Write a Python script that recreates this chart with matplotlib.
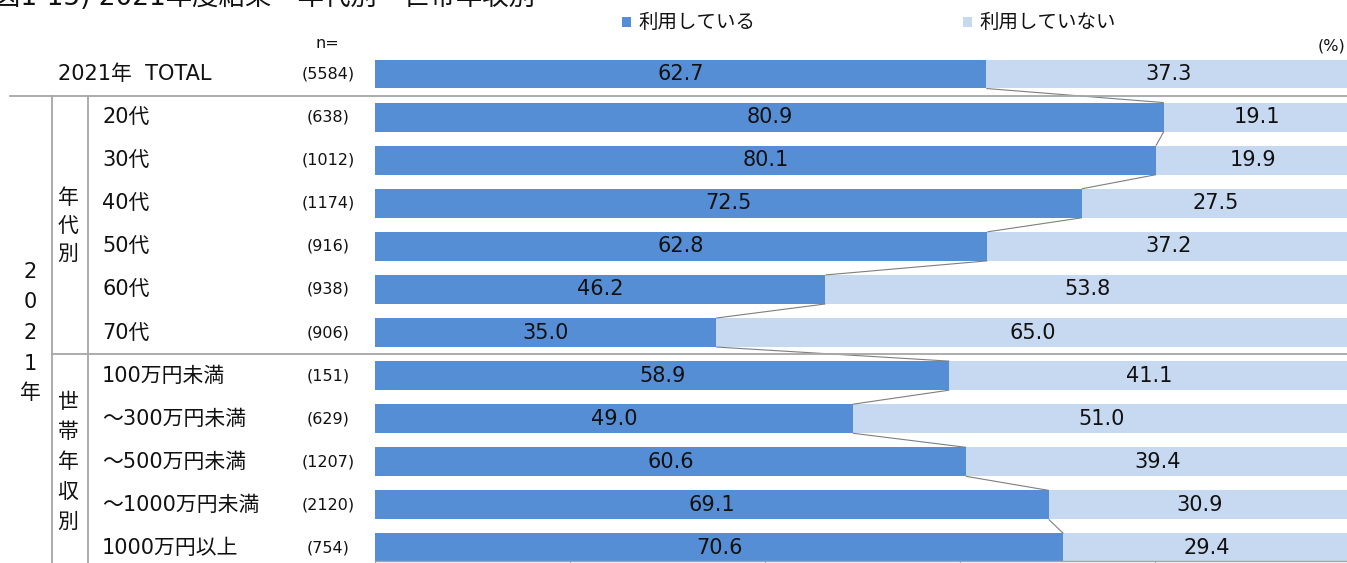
import matplotlib
matplotlib.use("Agg")
import matplotlib.pyplot as plt
from matplotlib.transforms import blended_transform_factory
from matplotlib.lines import Line2D
from matplotlib.patches import Rectangle

plt.rcParams['font.family'] = ['DejaVu Sans', 'Noto Sans CJK JP']

# ---- data ----
categories = ["2021年  TOTAL", "20代", "30代", "40代", "50代", "60代", "70代",
              "100万円未満", "～300万円未満", "～500万円未満", "～1000万円未満", "1000万円以上"]
n_values = [5584, 638, 1012, 1174, 916, 938, 906, 151, 629, 1207, 2120, 754]
using = [62.7, 80.9, 80.1, 72.5, 62.8, 46.2, 35.0, 58.9, 49.0, 60.6, 69.1, 70.6]
not_using = [37.3, 19.1, 19.9, 27.5, 37.2, 53.8, 65.0, 41.1, 51.0, 39.4, 30.9, 29.4]
series_names = ["利用している", "利用していない"]
title = "図1-15) 2021年度結果　年代別　世帯年収別"

C_USE = "#558ED5"
C_NOT = "#C6D9F1"
GRID = "#A6A6A6"
TXT = "#111111"

W, H = 1347, 563
fig = plt.figure(figsize=(W / 100, H / 100), dpi=100)

# bar area
row_h = 43.09
first_center = 74.0
top_px = first_center - 0.5 * row_h
bottom_px = 561.0
ax = fig.add_axes([375 / W, (H - bottom_px) / H, 975 / W, (bottom_px - top_px) / H])
ymax = (bottom_px - first_center) / row_h
ax.set_xlim(0, 100)
ax.set_ylim(ymax, -0.5)

bh = 0.673
ys = list(range(len(categories)))
ax.barh(ys, using, height=bh, color=C_USE, edgecolor='none')
ax.barh(ys, not_using, left=using, height=bh, color=C_NOT, edgecolor='none')

for y, u, nu in zip(ys, using, not_using):
    ax.text(u / 2, y, f"{u:.1f}", ha='center', va='center', fontsize=15, color=TXT)
    ax.text(u + nu / 2, y, f"{nu:.1f}", ha='center', va='center', fontsize=15, color=TXT)

# connectors between boundaries of consecutive bars
for i in range(len(using) - 1):
    ax.plot([using[i], using[i + 1]], [i + bh / 2, i + 1 - bh / 2],
            color='#7F7F7F', lw=0.8, solid_capstyle='butt')

for s in ['top', 'right', 'left']:
    ax.spines[s].set_visible(False)
ax.spines['bottom'].set_color(GRID)
ax.spines['bottom'].set_linewidth(1.0)
ax.set_xticks([0, 20, 40, 60, 80, 100])
ax.tick_params(axis='x', length=5, color=GRID, labelbottom=False)
ax.set_yticks([])

# row labels, n sizes, and table lines
tr = blended_transform_factory(fig.transFigure, ax.transData)
for y, cat, n in zip(ys, categories, n_values):
    x0 = 58 if y == 0 else 102
    ax.text(x0 / W, y, cat, transform=tr, ha='left', va='center', fontsize=15, color=TXT)
    ax.text(328 / W, y, f"({n})", transform=tr, ha='center', va='center', fontsize=11.5, color=TXT)

line_kw = dict(color=GRID, lw=1.3, transform=tr, clip_on=False)
fig.add_artist(Line2D([10 / W, 1.0], [0.5, 0.5], **line_kw))
fig.add_artist(Line2D([52 / W, 1.0], [6.5, 6.5], **line_kw))
fig.add_artist(Line2D([52 / W, 52 / W], [0.5, ymax + 0.2], **line_kw))
fig.add_artist(Line2D([88 / W, 88 / W], [0.5, ymax + 0.2], **line_kw))

# vertical group labels
def vlabel(text, x, y_pixels):
    for ch, yp in zip(text, y_pixels):
        fig.text(x / W, 1 - yp / H, ch, ha='center', va='center', fontsize=15, color=TXT)

vlabel("2021年", 30, [272, 302, 333, 364, 393])
vlabel("年代別", 68, [198, 226, 254])
vlabel("世帯年収別", 68, [402, 432, 462, 492, 522])

# header texts
fig.text(327 / W, 1 - 43 / H, "n=", ha='center', va='center', fontsize=11.5, color=TXT)
fig.text(1345 / W, 1 - 46 / H, "(%)", ha='right', va='center', fontsize=11.5, color=TXT)

# legend
for (xs, name, col) in [(622, series_names[0], C_USE), (963, series_names[1], C_NOT)]:
    fig.add_artist(Rectangle((xs / W, 1 - 27 / H), 9 / W, 10 / H, transform=fig.transFigure,
                             facecolor=col, edgecolor='none'))
    fig.text((xs + 16) / W, 1 - 22 / H, name, ha='left', va='center', fontsize=14, color=TXT)

# title (runs off the top of the canvas)
fig.text(-6 / W, 1 - 5 / H, title, ha='left', va='baseline', fontsize=19, color=TXT)

fig.savefig("out.png", dpi=100)
